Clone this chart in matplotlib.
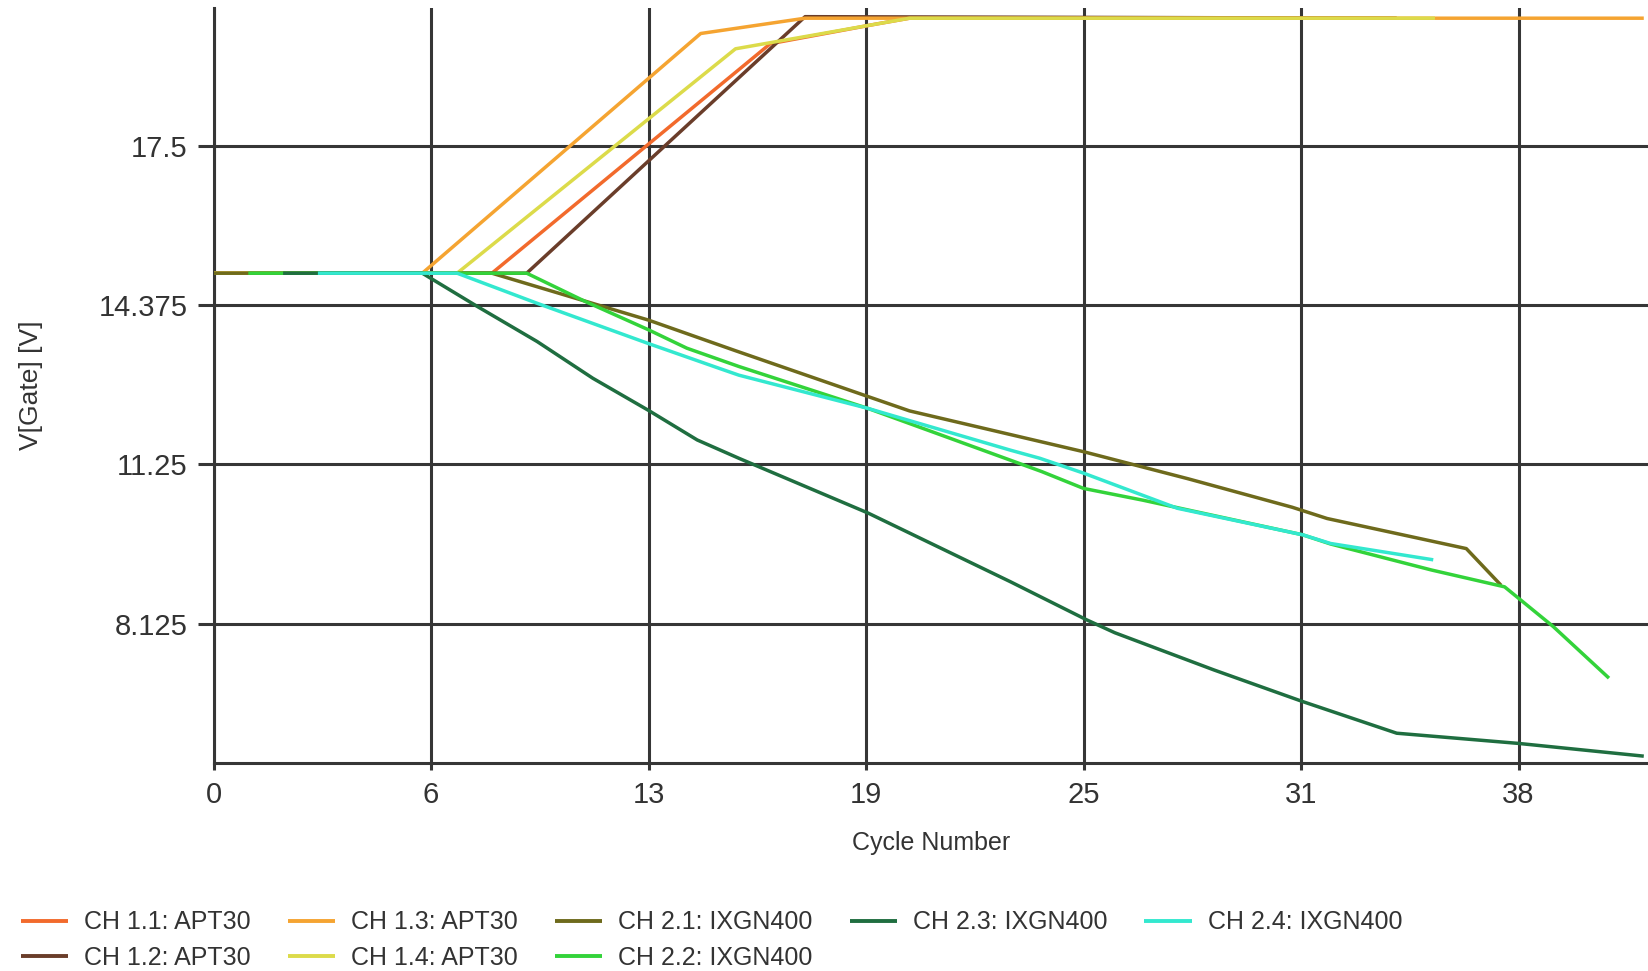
import matplotlib
matplotlib.use("Agg")
import matplotlib.pyplot as plt

plt.rcParams['font.family'] = ['Liberation Sans', 'DejaVu Sans']

# ---- data -------------------------------------------------------------
labels = ["CH 1.1: APT30", "CH 1.2: APT30", "CH 1.3: APT30", "CH 1.4: APT30",
          "CH 2.1: IXGN400", "CH 2.2: IXGN400", "CH 2.3: IXGN400", "CH 2.4: IXGN400"]
colors = ["#F26A2C", "#6A3D2A", "#F5A431", "#DCDB4A",
          "#6E6A1C", "#33D33A", "#1F6E40", "#33E8CF"]

ch11_x = [0, 8, 16, 19, 20, 34]
ch11_y = [15, 15, 19.5, 19.88, 20, 20]
ch12_x = [0, 9, 17, 34]
ch12_y = [15, 15, 20.03, 20]
ch13_x = [0, 6, 14, 17, 41.1]
ch13_y = [15, 15, 19.7, 20, 20]
ch14_x = [0, 7, 15, 20, 35.1]
ch14_y = [15, 15, 19.4, 20, 20]

ch21_x = [0, 8, 12.5, 15, 20, 25, 28, 31, 32, 36, 37]
ch21_y = [15, 15, 14.08, 13.48, 12.3, 11.5, 10.97, 10.41, 10.19, 9.6, 8.88]
ch22_x = [1, 9, 10.7, 12.5, 13.6, 15.1, 18.8, 23.8, 25, 26.7, 31.3, 32.1, 35, 37.1, 38.5, 40.1]
ch22_y = [15, 15, 14.44, 13.89, 13.53, 13.17, 12.35, 11.11, 10.78, 10.55, 9.87, 9.69, 9.18, 8.85, 8.07, 7.06]
ch23_x = [2, 6, 7.6, 9.3, 10.9, 12.5, 13.9, 15.1, 18.8, 22.9, 25.1, 25.9, 28.75, 31.3, 34, 37.5, 41.1]
ch23_y = [15, 15, 14.34, 13.66, 12.94, 12.31, 11.73, 11.37, 10.3, 8.95, 8.2, 7.95, 7.22, 6.6, 5.98, 5.78, 5.53]
ch24_x = [3, 7, 9.3, 12.5, 14.55, 15.1, 18.8, 22.9, 23.75, 25, 27.7, 31.3, 32.1, 35.05]
ch24_y = [15, 15, 14.41, 13.62, 13.13, 13.0, 12.35, 11.53, 11.37, 11.08, 10.39, 9.87, 9.70, 9.38]

series_x = [ch11_x, ch12_x, ch13_x, ch14_x, ch21_x, ch22_x, ch23_x, ch24_x]
series_y = [ch11_y, ch12_y, ch13_y, ch14_y, ch21_y, ch22_y, ch23_y, ch24_y]

x_ticks = [0, 6.25, 12.5, 18.75, 25, 31.25, 37.5]
x_ticklabels = ["0", "6", "13", "19", "25", "31", "38"]
y_ticks = [8.125, 11.25, 14.375, 17.5]
y_ticklabels = ["8.125", "11.25", "14.375", "17.5"]

# ---- figure -----------------------------------------------------------
W, H = 1649, 971
fig = plt.figure(figsize=(W / 100, H / 100), dpi=100)
ax = fig.add_axes([213.5 / W, 207.7 / H, 1435.5 / W, 755.3 / H])

grid_c = "#363636"
for xs, ys, c, lab in zip(series_x, series_y, colors, labels):
    ax.plot(xs, ys, color=c, lw=2.5, label=lab, solid_capstyle='butt', zorder=3)

ax.set_xlim(0, 41.25)
ax.set_ylim(5.39, 20.2)
ax.set_xticks(x_ticks)
ax.set_xticklabels(x_ticklabels)
ax.set_yticks(y_ticks)
ax.set_yticklabels(y_ticklabels)
ax.grid(True, color=grid_c, lw=2.2, zorder=1)
ax.set_axisbelow(True)

for s in ["top", "right"]:
    ax.spines[s].set_visible(False)
for s in ["left", "bottom"]:
    ax.spines[s].set_color(grid_c)
    ax.spines[s].set_linewidth(2.2)

ax.tick_params(axis='y', length=11.5, width=2.2, color=grid_c, pad=7,
               labelsize=21, labelcolor="#333333")
ax.tick_params(axis='x', length=5, width=2.2, color=grid_c, pad=8,
               labelsize=21, labelcolor="#333333")

ax.set_xlabel("Cycle Number", fontsize=18, color="#333333")
ax.xaxis.set_label_coords(0.5, -0.089)
ax.xaxis.label.set_va('top')
ax.set_ylabel("V[Gate] [V]", fontsize=19, color="#333333")
ax.yaxis.set_label_coords(-0.1185, 0.5)

leg = fig.legend(loc='center left', bbox_to_anchor=(21 / W, 1 - 940 / H),
                 ncol=5, frameon=False, fontsize=18, borderpad=0,
                 handlelength=1.9, handletextpad=0.64, columnspacing=1.47,
                 labelspacing=0.45, borderaxespad=0)
for t in leg.get_texts():
    t.set_color("#333333")
for l in leg.get_lines():
    l.set_linewidth(2.8)

fig.savefig("out.png", dpi=100, facecolor="white")
